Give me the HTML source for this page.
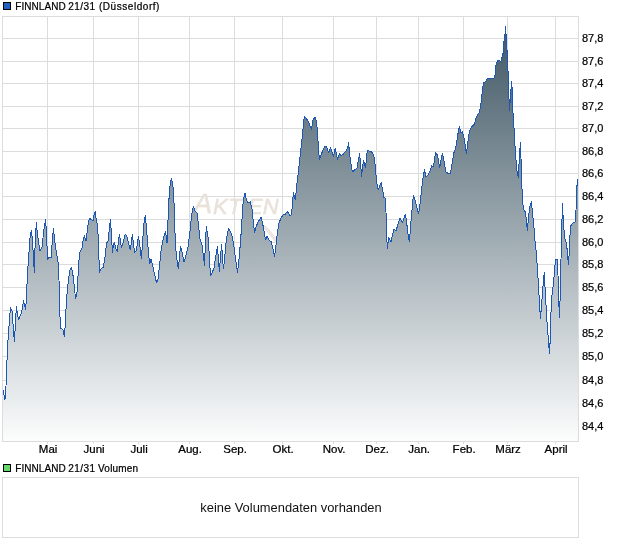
<!DOCTYPE html>
<html><head><meta charset="utf-8"><title>FINNLAND 21/31 (Düsseldorf)</title>
<style>html,body{margin:0;padding:0;background:#fff}svg{display:block}text{font-family:"Liberation Sans",Arial,sans-serif;fill:#000;stroke:#000;stroke-width:0.22px}</style></head><body>
<svg width="620" height="546" viewBox="0 0 620 546">
<defs><linearGradient id="g" gradientUnits="userSpaceOnUse" x1="0" y1="16" x2="0" y2="441"><stop offset="0" stop-color="#3b5361"/><stop offset="1" stop-color="#fcfdfd"/></linearGradient></defs>
<rect width="620" height="546" fill="#fff"/>
<path d="M47.5 16.5V441.5M93.5 16.5V441.5M138.5 16.5V441.5M189.5 16.5V441.5M234.5 16.5V441.5M282.5 16.5V441.5M333.5 16.5V441.5M376.5 16.5V441.5M418.5 16.5V441.5M463.5 16.5V441.5M507.5 16.5V441.5M555.5 16.5V441.5M2.5 38.5H578.5M2.5 61.5H578.5M2.5 83.5H578.5M2.5 106.5H578.5M2.5 128.5H578.5M2.5 151.5H578.5M2.5 173.5H578.5M2.5 196.5H578.5M2.5 219.5H578.5M2.5 242.5H578.5M2.5 264.5H578.5M2.5 287.5H578.5M2.5 310.5H578.5M2.5 333.5H578.5M2.5 356.5H578.5M2.5 380.5H578.5M2.5 403.5H578.5M2.5 426.5H578.5" stroke="#dcdcdc" stroke-width="1" fill="none" shape-rendering="crispEdges"/>
<text x="193.6" y="213" font-size="28" font-style="italic" style="fill:#e8e2da;stroke:#e8e2da;stroke-width:0.5" letter-spacing="0.2">A<tspan font-size="22" dx="0.6" dy="0.5">KTIEN</tspan></text>
<path d="M261 225 C266 228 272 234 277 243" stroke="#ebe6df" stroke-width="3.5" fill="none"/>
<path d="M3.0 390.0 L5.0 399.4 L6.0 386.0 L7.0 360.0 L8.0 340.0 L9.0 326.0 L10.4 307.6 L12.0 311.0 L14.4 341.6 L16.4 306.4 L18.4 320.0 L21.0 314.0 L22.6 308.0 L23.4 300.0 L24.4 304.5 L25.5 309.5 L26.2 301.5 L26.7 290.0 L28.0 266.0 L29.0 252.0 L30.0 238.0 L31.4 230.0 L32.6 242.0 L33.6 262.0 L34.4 272.4 L35.2 240.0 L36.4 222.4 L37.4 234.0 L40.0 251.0 L42.0 247.0 L43.6 232.0 L45.6 219.0 L46.6 236.0 L47.6 260.0 L49.0 257.0 L51.0 258.0 L52.4 240.0 L53.4 228.0 L54.4 238.0 L56.0 250.0 L58.0 262.0 L59.0 280.0 L59.6 309.0 L60.6 328.0 L63.0 330.0 L64.4 336.6 L65.6 320.0 L66.0 309.0 L67.0 294.0 L68.4 280.0 L70.0 270.0 L71.4 267.0 L72.6 272.0 L74.0 284.0 L75.6 299.0 L77.0 292.0 L78.0 276.0 L79.0 260.0 L80.0 252.0 L82.0 248.0 L83.2 240.0 L84.4 235.6 L86.0 241.0 L87.4 230.0 L88.6 221.0 L90.0 218.4 L91.6 220.0 L93.0 220.6 L94.0 215.0 L95.4 211.4 L96.4 222.0 L97.4 224.0 L98.4 240.0 L99.0 260.0 L99.6 272.4 L101.0 269.0 L103.4 267.0 L105.0 257.0 L106.6 243.0 L108.0 241.0 L109.4 228.0 L110.4 219.4 L111.4 233.0 L112.4 253.0 L113.4 245.0 L114.4 242.6 L115.6 248.0 L117.4 252.0 L118.4 240.0 L119.4 234.4 L120.6 242.0 L121.4 247.6 L123.0 243.0 L125.4 234.0 L127.0 237.0 L129.0 245.0 L130.4 250.0 L132.4 234.0 L133.4 243.0 L134.6 253.0 L136.4 250.0 L138.4 236.0 L139.6 243.0 L141.4 259.0 L142.6 241.0 L144.0 223.0 L145.2 215.4 L146.4 227.0 L147.6 243.0 L148.6 253.0 L149.6 264.0 L151.0 259.0 L152.0 263.0 L153.4 269.0 L155.0 276.0 L156.6 283.0 L158.0 279.0 L159.4 267.0 L161.0 251.0 L162.6 241.0 L164.4 235.0 L165.6 232.0 L167.0 243.0 L167.6 231.0 L168.6 205.0 L169.6 189.0 L171.4 178.0 L172.8 184.0 L174.0 203.0 L175.0 233.0 L176.0 251.0 L177.4 263.0 L178.4 269.0 L179.6 255.0 L180.6 246.0 L182.0 252.0 L184.0 262.4 L186.0 255.0 L188.0 247.0 L189.6 235.0 L191.0 221.0 L192.4 210.0 L193.6 206.6 L195.0 211.0 L197.4 213.4 L198.4 225.0 L200.0 239.0 L202.0 245.0 L203.6 257.0 L204.6 266.0 L205.4 241.0 L206.4 226.6 L207.4 233.0 L208.4 239.0 L209.4 259.0 L210.6 276.0 L212.0 273.0 L214.0 268.0 L215.6 257.0 L217.4 246.6 L218.4 259.0 L219.4 272.0 L220.6 255.0 L221.6 244.6 L222.6 259.0 L223.4 269.0 L224.4 261.0 L226.0 243.0 L227.4 233.0 L228.6 228.6 L230.6 232.0 L232.4 237.0 L234.0 247.0 L235.6 259.0 L237.6 272.4 L239.0 259.0 L240.6 241.0 L242.0 219.0 L243.4 199.0 L245.0 193.4 L246.4 200.0 L248.0 203.0 L250.4 202.0 L252.0 209.0 L253.2 221.0 L254.6 232.4 L256.0 227.0 L258.0 222.0 L261.0 217.4 L262.4 222.0 L264.0 231.0 L265.6 240.0 L267.0 236.0 L269.0 240.0 L271.4 242.0 L273.0 249.0 L274.6 256.4 L276.0 245.0 L277.4 233.0 L279.0 223.0 L281.0 218.0 L283.0 215.0 L285.0 214.6 L287.4 211.4 L289.4 215.0 L291.4 215.0 L292.4 205.0 L293.4 192.6 L294.4 197.0 L295.4 200.0 L296.4 188.5 L298.0 175.0 L299.4 162.0 L301.0 148.0 L302.4 136.0 L303.4 124.0 L304.4 116.4 L306.4 118.4 L309.0 123.0 L311.4 129.4 L313.0 120.0 L315.0 117.0 L316.6 122.0 L317.6 134.0 L318.6 150.0 L319.4 160.0 L321.0 155.0 L323.0 150.0 L325.0 146.6 L326.4 146.6 L328.6 153.0 L330.4 147.6 L332.0 152.0 L333.6 156.0 L335.2 148.0 L336.4 154.0 L337.6 159.6 L339.6 153.6 L341.0 156.0 L343.0 154.4 L346.0 151.0 L347.6 148.0 L348.6 143.0 L349.6 154.0 L350.6 162.0 L352.4 172.0 L354.4 170.0 L357.0 168.0 L358.4 160.0 L359.6 153.4 L360.6 164.0 L361.6 176.6 L362.6 166.0 L363.6 161.0 L365.6 168.0 L366.4 158.0 L367.4 150.4 L369.4 151.0 L371.6 152.0 L373.4 154.4 L374.6 160.0 L375.6 170.0 L376.6 182.0 L378.2 190.0 L379.4 187.0 L381.2 182.4 L382.4 189.0 L384.0 197.5 L385.2 198.0 L386.0 212.0 L386.6 234.0 L387.4 248.4 L388.6 237.0 L391.0 242.0 L392.4 235.0 L394.0 229.0 L396.0 231.0 L398.0 224.0 L400.0 218.6 L402.4 222.4 L404.0 218.0 L405.4 214.6 L406.6 222.0 L408.0 234.0 L409.4 242.0 L410.6 226.0 L412.0 210.0 L413.4 195.0 L415.0 200.0 L417.0 208.0 L418.6 214.0 L420.0 204.0 L421.6 190.0 L423.0 178.0 L424.4 169.6 L426.0 177.0 L428.0 175.0 L430.0 171.0 L431.6 166.0 L433.4 167.0 L434.4 160.0 L435.6 152.4 L437.4 155.0 L438.6 161.0 L439.6 168.0 L441.0 160.0 L442.4 153.4 L444.0 161.0 L446.0 172.0 L448.0 173.4 L450.4 173.4 L451.6 167.0 L453.0 158.0 L454.0 152.5 L455.6 148.0 L457.0 140.0 L458.4 131.0 L459.4 126.0 L461.0 133.0 L462.6 132.0 L464.0 138.0 L465.4 146.0 L466.4 154.0 L467.6 144.0 L469.0 134.0 L470.4 129.0 L472.4 126.0 L474.4 124.0 L476.0 118.0 L477.4 115.0 L479.4 112.4 L480.6 106.0 L481.6 98.0 L482.6 88.0 L483.6 83.0 L485.6 81.6 L487.4 78.6 L490.0 78.4 L494.0 78.4 L495.3 74.0 L495.6 68.4 L496.3 63.3 L497.4 60.8 L498.9 60.1 L500.7 61.5 L501.7 59.8 L502.4 54.3 L503.2 53.3 L503.7 46.2 L504.4 35.1 L505.0 33.9 L505.5 27.0 L505.9 34.1 L506.5 35.6 L506.9 50.2 L507.5 51.8 L507.8 70.4 L508.3 72.4 L508.7 90.0 L509.2 104.0 L509.5 111.0 L510.4 97.0 L510.7 89.5 L511.4 88.0 L511.7 81.0 L512.3 91.5 L512.8 110.0 L513.6 122.0 L514.4 134.0 L515.4 153.0 L516.4 165.0 L517.4 174.0 L518.4 178.0 L519.4 156.0 L520.4 142.4 L521.0 158.0 L521.6 180.0 L522.4 198.0 L523.4 209.0 L525.4 212.0 L526.4 220.0 L527.4 231.0 L528.4 218.0 L530.0 206.0 L531.4 201.4 L532.6 214.0 L534.0 228.0 L534.6 238.0 L535.6 245.0 L536.6 257.0 L537.6 271.0 L538.6 287.0 L539.6 305.0 L540.4 318.4 L541.6 305.0 L542.6 291.0 L543.6 279.0 L544.4 272.4 L545.0 287.0 L546.0 305.0 L547.0 322.0 L547.6 330.0 L548.4 340.0 L549.4 353.6 L550.1 342.0 L550.7 320.0 L551.3 305.0 L551.6 299.0 L553.0 287.0 L554.0 277.0 L555.0 265.0 L555.6 259.4 L557.4 259.4 L558.0 275.0 L558.6 299.0 L559.6 318.0 L560.4 285.0 L561.0 259.0 L561.6 235.0 L562.4 203.0 L563.2 218.0 L564.0 230.0 L565.0 239.0 L566.6 244.0 L567.6 255.0 L568.4 264.4 L569.4 251.0 L570.0 235.0 L570.6 226.0 L573.0 223.0 L575.0 222.0 L576.0 210.0 L576.6 190.0 L577.6 179.0 L577.6 441.5 L3.0 441.5 Z" fill="url(#g)" shape-rendering="crispEdges"/>
<path d="M3.0 390.0 L5.0 399.4 L6.0 386.0 L7.0 360.0 L8.0 340.0 L9.0 326.0 L10.4 307.6 L12.0 311.0 L14.4 341.6 L16.4 306.4 L18.4 320.0 L21.0 314.0 L22.6 308.0 L23.4 300.0 L24.4 304.5 L25.5 309.5 L26.2 301.5 L26.7 290.0 L28.0 266.0 L29.0 252.0 L30.0 238.0 L31.4 230.0 L32.6 242.0 L33.6 262.0 L34.4 272.4 L35.2 240.0 L36.4 222.4 L37.4 234.0 L40.0 251.0 L42.0 247.0 L43.6 232.0 L45.6 219.0 L46.6 236.0 L47.6 260.0 L49.0 257.0 L51.0 258.0 L52.4 240.0 L53.4 228.0 L54.4 238.0 L56.0 250.0 L58.0 262.0 L59.0 280.0 L59.6 309.0 L60.6 328.0 L63.0 330.0 L64.4 336.6 L65.6 320.0 L66.0 309.0 L67.0 294.0 L68.4 280.0 L70.0 270.0 L71.4 267.0 L72.6 272.0 L74.0 284.0 L75.6 299.0 L77.0 292.0 L78.0 276.0 L79.0 260.0 L80.0 252.0 L82.0 248.0 L83.2 240.0 L84.4 235.6 L86.0 241.0 L87.4 230.0 L88.6 221.0 L90.0 218.4 L91.6 220.0 L93.0 220.6 L94.0 215.0 L95.4 211.4 L96.4 222.0 L97.4 224.0 L98.4 240.0 L99.0 260.0 L99.6 272.4 L101.0 269.0 L103.4 267.0 L105.0 257.0 L106.6 243.0 L108.0 241.0 L109.4 228.0 L110.4 219.4 L111.4 233.0 L112.4 253.0 L113.4 245.0 L114.4 242.6 L115.6 248.0 L117.4 252.0 L118.4 240.0 L119.4 234.4 L120.6 242.0 L121.4 247.6 L123.0 243.0 L125.4 234.0 L127.0 237.0 L129.0 245.0 L130.4 250.0 L132.4 234.0 L133.4 243.0 L134.6 253.0 L136.4 250.0 L138.4 236.0 L139.6 243.0 L141.4 259.0 L142.6 241.0 L144.0 223.0 L145.2 215.4 L146.4 227.0 L147.6 243.0 L148.6 253.0 L149.6 264.0 L151.0 259.0 L152.0 263.0 L153.4 269.0 L155.0 276.0 L156.6 283.0 L158.0 279.0 L159.4 267.0 L161.0 251.0 L162.6 241.0 L164.4 235.0 L165.6 232.0 L167.0 243.0 L167.6 231.0 L168.6 205.0 L169.6 189.0 L171.4 178.0 L172.8 184.0 L174.0 203.0 L175.0 233.0 L176.0 251.0 L177.4 263.0 L178.4 269.0 L179.6 255.0 L180.6 246.0 L182.0 252.0 L184.0 262.4 L186.0 255.0 L188.0 247.0 L189.6 235.0 L191.0 221.0 L192.4 210.0 L193.6 206.6 L195.0 211.0 L197.4 213.4 L198.4 225.0 L200.0 239.0 L202.0 245.0 L203.6 257.0 L204.6 266.0 L205.4 241.0 L206.4 226.6 L207.4 233.0 L208.4 239.0 L209.4 259.0 L210.6 276.0 L212.0 273.0 L214.0 268.0 L215.6 257.0 L217.4 246.6 L218.4 259.0 L219.4 272.0 L220.6 255.0 L221.6 244.6 L222.6 259.0 L223.4 269.0 L224.4 261.0 L226.0 243.0 L227.4 233.0 L228.6 228.6 L230.6 232.0 L232.4 237.0 L234.0 247.0 L235.6 259.0 L237.6 272.4 L239.0 259.0 L240.6 241.0 L242.0 219.0 L243.4 199.0 L245.0 193.4 L246.4 200.0 L248.0 203.0 L250.4 202.0 L252.0 209.0 L253.2 221.0 L254.6 232.4 L256.0 227.0 L258.0 222.0 L261.0 217.4 L262.4 222.0 L264.0 231.0 L265.6 240.0 L267.0 236.0 L269.0 240.0 L271.4 242.0 L273.0 249.0 L274.6 256.4 L276.0 245.0 L277.4 233.0 L279.0 223.0 L281.0 218.0 L283.0 215.0 L285.0 214.6 L287.4 211.4 L289.4 215.0 L291.4 215.0 L292.4 205.0 L293.4 192.6 L294.4 197.0 L295.4 200.0 L296.4 188.5 L298.0 175.0 L299.4 162.0 L301.0 148.0 L302.4 136.0 L303.4 124.0 L304.4 116.4 L306.4 118.4 L309.0 123.0 L311.4 129.4 L313.0 120.0 L315.0 117.0 L316.6 122.0 L317.6 134.0 L318.6 150.0 L319.4 160.0 L321.0 155.0 L323.0 150.0 L325.0 146.6 L326.4 146.6 L328.6 153.0 L330.4 147.6 L332.0 152.0 L333.6 156.0 L335.2 148.0 L336.4 154.0 L337.6 159.6 L339.6 153.6 L341.0 156.0 L343.0 154.4 L346.0 151.0 L347.6 148.0 L348.6 143.0 L349.6 154.0 L350.6 162.0 L352.4 172.0 L354.4 170.0 L357.0 168.0 L358.4 160.0 L359.6 153.4 L360.6 164.0 L361.6 176.6 L362.6 166.0 L363.6 161.0 L365.6 168.0 L366.4 158.0 L367.4 150.4 L369.4 151.0 L371.6 152.0 L373.4 154.4 L374.6 160.0 L375.6 170.0 L376.6 182.0 L378.2 190.0 L379.4 187.0 L381.2 182.4 L382.4 189.0 L384.0 197.5 L385.2 198.0 L386.0 212.0 L386.6 234.0 L387.4 248.4 L388.6 237.0 L391.0 242.0 L392.4 235.0 L394.0 229.0 L396.0 231.0 L398.0 224.0 L400.0 218.6 L402.4 222.4 L404.0 218.0 L405.4 214.6 L406.6 222.0 L408.0 234.0 L409.4 242.0 L410.6 226.0 L412.0 210.0 L413.4 195.0 L415.0 200.0 L417.0 208.0 L418.6 214.0 L420.0 204.0 L421.6 190.0 L423.0 178.0 L424.4 169.6 L426.0 177.0 L428.0 175.0 L430.0 171.0 L431.6 166.0 L433.4 167.0 L434.4 160.0 L435.6 152.4 L437.4 155.0 L438.6 161.0 L439.6 168.0 L441.0 160.0 L442.4 153.4 L444.0 161.0 L446.0 172.0 L448.0 173.4 L450.4 173.4 L451.6 167.0 L453.0 158.0 L454.0 152.5 L455.6 148.0 L457.0 140.0 L458.4 131.0 L459.4 126.0 L461.0 133.0 L462.6 132.0 L464.0 138.0 L465.4 146.0 L466.4 154.0 L467.6 144.0 L469.0 134.0 L470.4 129.0 L472.4 126.0 L474.4 124.0 L476.0 118.0 L477.4 115.0 L479.4 112.4 L480.6 106.0 L481.6 98.0 L482.6 88.0 L483.6 83.0 L485.6 81.6 L487.4 78.6 L490.0 78.4 L494.0 78.4 L495.3 74.0 L495.6 68.4 L496.3 63.3 L497.4 60.8 L498.9 60.1 L500.7 61.5 L501.7 59.8 L502.4 54.3 L503.2 53.3 L503.7 46.2 L504.4 35.1 L505.0 33.9 L505.5 27.0 L505.9 34.1 L506.5 35.6 L506.9 50.2 L507.5 51.8 L507.8 70.4 L508.3 72.4 L508.7 90.0 L509.2 104.0 L509.5 111.0 L510.4 97.0 L510.7 89.5 L511.4 88.0 L511.7 81.0 L512.3 91.5 L512.8 110.0 L513.6 122.0 L514.4 134.0 L515.4 153.0 L516.4 165.0 L517.4 174.0 L518.4 178.0 L519.4 156.0 L520.4 142.4 L521.0 158.0 L521.6 180.0 L522.4 198.0 L523.4 209.0 L525.4 212.0 L526.4 220.0 L527.4 231.0 L528.4 218.0 L530.0 206.0 L531.4 201.4 L532.6 214.0 L534.0 228.0 L534.6 238.0 L535.6 245.0 L536.6 257.0 L537.6 271.0 L538.6 287.0 L539.6 305.0 L540.4 318.4 L541.6 305.0 L542.6 291.0 L543.6 279.0 L544.4 272.4 L545.0 287.0 L546.0 305.0 L547.0 322.0 L547.6 330.0 L548.4 340.0 L549.4 353.6 L550.1 342.0 L550.7 320.0 L551.3 305.0 L551.6 299.0 L553.0 287.0 L554.0 277.0 L555.0 265.0 L555.6 259.4 L557.4 259.4 L558.0 275.0 L558.6 299.0 L559.6 318.0 L560.4 285.0 L561.0 259.0 L561.6 235.0 L562.4 203.0 L563.2 218.0 L564.0 230.0 L565.0 239.0 L566.6 244.0 L567.6 255.0 L568.4 264.4 L569.4 251.0 L570.0 235.0 L570.6 226.0 L573.0 223.0 L575.0 222.0 L576.0 210.0 L576.6 190.0 L577.6 179.0" fill="none" stroke="#1c57b4" stroke-width="1" stroke-linejoin="round" shape-rendering="crispEdges"/>
<rect x="2.5" y="16.5" width="576.0" height="425.0" fill="none" stroke="#dcdcdc" shape-rendering="crispEdges"/>
<path d="M47.5 441.5v2M93.5 441.5v2M138.5 441.5v2M189.5 441.5v2M234.5 441.5v2M282.5 441.5v2M333.5 441.5v2M376.5 441.5v2M418.5 441.5v2M463.5 441.5v2M507.5 441.5v2M555.5 441.5v2" stroke="#dcdcdc" fill="none" shape-rendering="crispEdges"/>
<text x="582" y="42.0" font-size="11">87,8</text>
<text x="582" y="65.0" font-size="11">87,6</text>
<text x="582" y="87.0" font-size="11">87,4</text>
<text x="582" y="110.0" font-size="11">87,2</text>
<text x="582" y="132.0" font-size="11">87,0</text>
<text x="582" y="155.0" font-size="11">86,8</text>
<text x="582" y="177.0" font-size="11">86,6</text>
<text x="582" y="200.0" font-size="11">86,4</text>
<text x="582" y="223.0" font-size="11">86,2</text>
<text x="582" y="246.0" font-size="11">86,0</text>
<text x="582" y="268.0" font-size="11">85,8</text>
<text x="582" y="291.0" font-size="11">85,6</text>
<text x="582" y="314.0" font-size="11">85,4</text>
<text x="582" y="337.0" font-size="11">85,2</text>
<text x="582" y="360.0" font-size="11">85,0</text>
<text x="582" y="384.0" font-size="11">84,8</text>
<text x="582" y="407.0" font-size="11">84,6</text>
<text x="582" y="430.0" font-size="11">84,4</text>
<text transform="translate(48.1 453) scale(1.15 1)" font-size="10" text-anchor="middle">Mai</text>
<text transform="translate(94.1 453) scale(1.15 1)" font-size="10" text-anchor="middle">Juni</text>
<text transform="translate(139.1 453) scale(1.15 1)" font-size="10" text-anchor="middle">Juli</text>
<text transform="translate(190.1 453) scale(1.15 1)" font-size="10" text-anchor="middle">Aug.</text>
<text transform="translate(235.1 453) scale(1.15 1)" font-size="10" text-anchor="middle">Sep.</text>
<text transform="translate(283.1 453) scale(1.15 1)" font-size="10" text-anchor="middle">Okt.</text>
<text transform="translate(334.1 453) scale(1.15 1)" font-size="10" text-anchor="middle">Nov.</text>
<text transform="translate(377.1 453) scale(1.15 1)" font-size="10" text-anchor="middle">Dez.</text>
<text transform="translate(419.1 453) scale(1.15 1)" font-size="10" text-anchor="middle">Jan.</text>
<text transform="translate(464.1 453) scale(1.15 1)" font-size="10" text-anchor="middle">Feb.</text>
<text transform="translate(508.1 453) scale(1.15 1)" font-size="10" text-anchor="middle">März</text>
<text transform="translate(556.1 453) scale(1.15 1)" font-size="10" text-anchor="middle">April</text>
<rect x="3.5" y="2.5" width="7" height="7" fill="#2060c0" stroke="#000"/>
<text x="15.3" y="9.5" font-size="10"><tspan letter-spacing="0.05">FINNLAND </tspan><tspan letter-spacing="0.45" dx="-0.4">21/31 </tspan><tspan dx="0.3" letter-spacing="0.55">(Düsseldorf)</tspan></text>
<rect x="3.5" y="464.5" width="7" height="7" fill="#66d96c" stroke="#000"/>
<text x="15.3" y="472" font-size="10"><tspan letter-spacing="0.05">FINNLAND </tspan><tspan letter-spacing="0.45" dx="-0.4">21/31 </tspan><tspan dx="-0.6" letter-spacing="0.2">Volumen</tspan></text>
<rect x="2.5" y="477.5" width="576.0" height="60" fill="#fff" stroke="#dcdcdc" shape-rendering="crispEdges"/>
<text x="291" y="511.7" font-size="12.9" text-anchor="middle" style="stroke:none;fill:#111">keine Volumendaten vorhanden</text>
</svg></body></html>
